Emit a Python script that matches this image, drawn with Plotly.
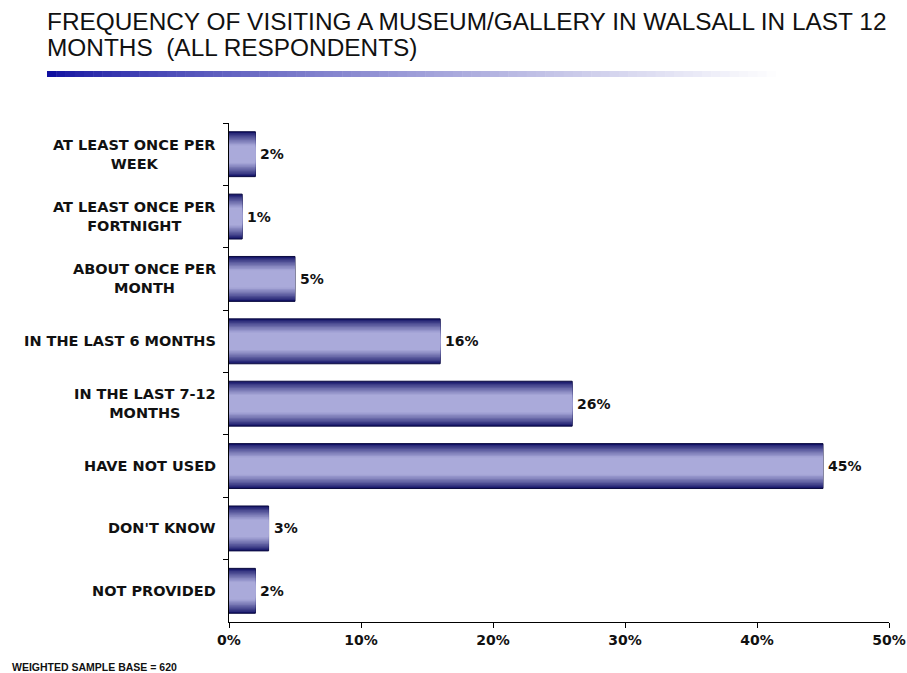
import plotly.graph_objects as go

# Survey results: frequency of visiting a museum/gallery in Walsall
categories = [
    "AT LEAST ONCE PER<br>WEEK",
    "AT LEAST ONCE PER<br>FORTNIGHT",
    "ABOUT ONCE PER<br>MONTH",
    "IN THE LAST 6 MONTHS",
    "IN THE LAST 7-12<br>MONTHS",
    "HAVE NOT USED",
    "DON'T KNOW",
    "NOT PROVIDED",
]
values = [2, 1, 5, 16, 26, 45, 3, 2]
x_ticks = [0, 10, 20, 30, 40, 50]
x_tick_labels = ["0%", "10%", "20%", "30%", "40%", "50%"]
title_lines = [
    "FREQUENCY OF VISITING A MUSEUM/GALLERY IN WALSALL IN LAST 12",
    "MONTHS  (ALL RESPONDENTS)",
]

W, H = 907, 673
ML, MR, MT, MB = 229, 18, 123, 51
PW, PH = W - ML - MR, H - MT - MB

LABEL_FONT = dict(family="DejaVu Sans", size=14.5, color="#111111", weight="bold")
VALUE_FONT = dict(family="DejaVu Sans", size=14, color="#111111", weight="bold")


def px_x(p):
    return (p - ML) / PW


def px_y(p):
    return (H - MB - p) / PH


def mix(c1, c2, t):
    return "#%02x%02x%02x" % tuple(round(a + (b - a) * t) for a, b in zip(c1, c2))


fig = go.Figure()

# Bars with a vertical shading: stacked overlays that get lighter toward the middle
dark = (20, 20, 104)
light = (170, 170, 218)
bar_w = 0.72
n_layers = 16
for i in range(n_layers):
    frac = i / (n_layers - 1)
    w = bar_w * (1 - frac * 0.92)
    t = min(1.0, (i / (n_layers * 0.6)) ** 0.85)
    first = i == 0
    fig.add_trace(go.Bar(
        y=categories, x=values, orientation="h", width=w,
        marker=dict(color=mix(dark, light, t),
                    line=dict(width=1 if first else 0, color="#0c0c40")),
        hoverinfo="skip", showlegend=False,
    ))

annotations = []

# Value labels just past the end of each bar
for c, v in zip(categories, values):
    annotations.append(dict(
        x=v, xref="x", y=c, yref="y", text=f"{v}%", showarrow=False,
        xanchor="left", yanchor="middle", xshift=3, font=VALUE_FONT,
    ))

# Category labels, centred on each other and right-aligned against the axis
for c in categories:
    annotations.append(dict(
        x=0, xref="paper", y=c, yref="y", text=c, showarrow=False,
        xanchor="right", yanchor="middle", align="center", xshift=-11,
        font=LABEL_FONT,
    ))

# Title, one annotation per line
for k, line in enumerate(title_lines):
    annotations.append(dict(
        x=px_x(45), xref="paper", y=px_y(22 + 25 * k), yref="paper", showarrow=False,
        xanchor="left", yanchor="middle", align="left", text=line,
        font=dict(family="Liberation Sans, Arial", size=24.4, color="#111111"),
    ))

# Sample base note
annotations.append(dict(
    x=px_x(10), xref="paper", y=px_y(667), yref="paper", showarrow=False,
    xanchor="left", yanchor="middle",
    text="WEIGHTED SAMPLE BASE = 620",
    font=dict(family="Liberation Sans Narrow, Arial Narrow, Liberation Sans", size=10.5,
              color="#111111", weight="bold"),
))

# Underline beneath the title fading from blue to white
shapes = []
x0, x1 = 47, 785
segs = 80
start = (16, 16, 160)
end = (255, 255, 255)
for k in range(segs):
    a = x0 + (x1 - x0) * k / segs
    b = x0 + (x1 - x0) * (k + 1) / segs + 0.5
    t = (k / (segs - 1)) ** 0.75
    shapes.append(dict(
        type="rect", xref="paper", yref="paper",
        x0=px_x(a), x1=px_x(b), y0=px_y(77), y1=px_y(71),
        fillcolor=mix(start, end, t), line=dict(width=0), layer="above",
    ))

fig.update_layout(
    width=W, height=H,
    margin=dict(l=ML, r=MR, t=MT, b=MB, autoexpand=False),
    paper_bgcolor="white", plot_bgcolor="white",
    barmode="overlay",
    annotations=annotations, shapes=shapes,
    xaxis=dict(
        range=[0, 50], tickvals=x_ticks, ticktext=x_tick_labels,
        showgrid=False, zeroline=False, automargin=False,
        showline=True, linecolor="black", linewidth=1,
        ticks="outside", ticklen=5, tickcolor="black",
        tickfont=VALUE_FONT, fixedrange=True,
    ),
    yaxis=dict(
        type="category", range=[len(categories) - 0.5, -0.5],
        showgrid=False, zeroline=False, automargin=False,
        showline=True, linecolor="black", linewidth=1,
        ticks="outside", ticklen=5, tickcolor="black", tickson="boundaries",
        showticklabels=False, fixedrange=True,
    ),
    showlegend=False,
)

fig.write_html("out.html")
